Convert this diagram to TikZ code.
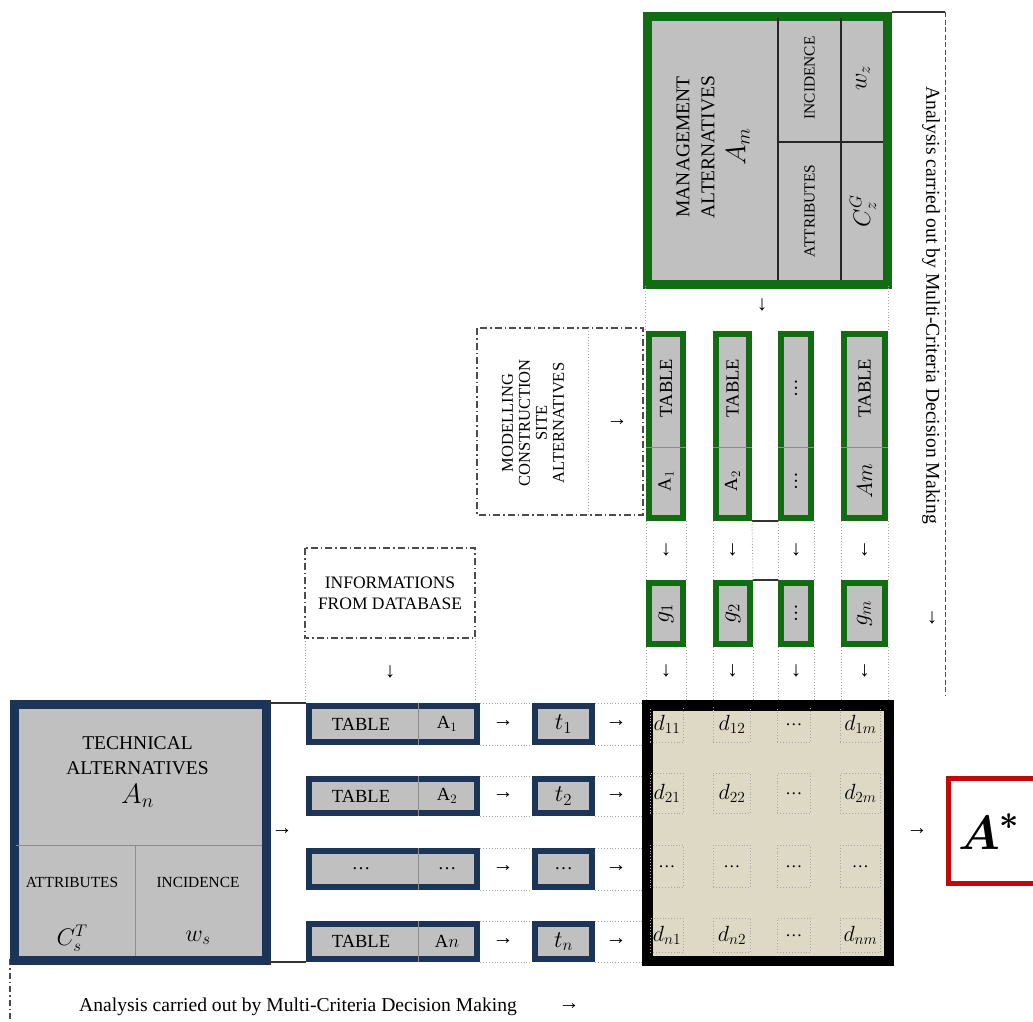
\RequirePackage{fix-cm}
\documentclass[tikz,border=0pt]{standalone}
\usepackage{amsmath}
\usepackage{fontspec}
\setmainfont{Liberation Serif}
\definecolor{dgreen}{RGB}{18,108,18}
\definecolor{navy}{RGB}{28,52,88}
\definecolor{lgray}{RGB}{192,192,192}
\definecolor{beige}{RGB}{221,217,196}
\definecolor{dred}{RGB}{192,10,10}
\newcommand{\bx}[7]{\node[#2, anchor=north west, minimum width={#5-#3}, minimum height={#6-#4}, inner sep=0pt] (#1) at (#3,#4) {#7};}
\tikzset{
 gbox/.style={draw=dgreen, line width=6pt, fill=lgray},
 nbox/.style={draw=navy, line width=6pt, fill=lgray},
 mbox/.style={draw=black, line width=7pt, fill=beige},
 abox/.style={draw=dred, line width=5pt, fill=white},
 dbox/.style={draw=black!70, line width=1.3pt, dash pattern=on 7pt off 3pt on 1.5pt off 3pt},
 guide/.style={draw=black!35, line width=0.9pt, dotted},
 linkline/.style={draw=black!80, line width=1.4pt},
 divline/.style={draw=black!85, line width=1.5pt},
 sdiv/.style={draw=black!45, line width=0.9pt},
 cellbox/.style={draw=black!35, dotted, line width=0.9pt, font=\fontsize{22}{22}\selectfont},
 bigtxt/.style={font=\fontsize{19.5}{25}\selectfont, align=center, inner sep=0pt},
 midtxt/.style={font=\fontsize{18.5}{22}\selectfont, inner sep=0pt},
 smalltxt/.style={font=\fontsize{15.4}{18}\selectfont, inner sep=0pt},
 arrtxt/.style={font=\fontsize{21}{21}\selectfont, inner sep=0pt},
 mth/.style={font=\fontsize{24}{24}\selectfont, inner sep=0pt},
}
\begin{document}
\begin{tikzpicture}[x=1pt,y=-1pt]
\clip (0,0) rectangle (1033,1021);
\fill[white] (0,0) rectangle (1033,1021);

% ---------- guides (behind boxes) ----------
\coordinate (rt) at (945,12);
\coordinate (rb) at (945,695);
\draw[black!70, line width=1pt, dash pattern=on 5pt off 2.5pt] (rt) -- (rb);
\coordinate (lt) at (10,959);
\coordinate (lb) at (10,1021);
\draw[black!70, line width=1.2pt, dash pattern=on 6pt off 3pt on 1.5pt off 3pt] (lt) -- (lb);

% ---------- management box ----------
\bx{M}{gbox}{645.5}{14.5}{882.5}{279.5}{}
\draw[divline] (778,14.5) -- (778,279.5);
\draw[divline] (841,14.5) -- (841,279.5);
\draw[divline] (778,142) -- (882.5,142);
\draw[gbox,fill=none] (M.north west) rectangle (M.south east);
\draw[linkline] (M.north east) ++(3.5,-2.5) coordinate (mtr) -- (rt);
\node[bigtxt, rotate=90] (mtext) at (713,147) {MANAGEMENT\\ALTERNATIVES\\[6pt]{\fontsize{28}{28}\selectfont$A_m$}};
\node[smalltxt, rotate=90] (minc) at (809.5,78) {INCIDENCE};
\node[smalltxt, rotate=90] (matt) at (809.5,211) {ATTRIBUTES};
\node[mth, rotate=90] (mw) at (863,78) {$w_z$};
\node[mth, rotate=90] (mc) at (863,211) {$C_z^G$};
\node[arrtxt] (a0) at (762,305) {↓};

% ---------- columns ----------
\bx{c1}{gbox}{646}{331}{680}{515}{}
\bx{c2}{gbox}{713}{331}{746}{515}{}
\bx{c3}{gbox}{778}{331}{808}{515}{}
\bx{c4}{gbox}{841}{331}{882}{515}{}
\foreach \c in {c1,c2,c3,c4}{\draw[sdiv] (\c.west |- 0,447) -- (\c.east |- 0,447);}
\node[midtxt, rotate=90] (c1t) at (c1.center |- 0,388) {TABLE};
\node[midtxt, rotate=90] (c2t) at (c2.center |- 0,388) {TABLE};
\node[midtxt, rotate=90] (c3t) at (c3.center |- 0,388) {…};
\node[midtxt, rotate=90] (c4t) at (c4.center |- 0,388) {TABLE};
\node[midtxt, rotate=90] (c1a) at (c1.center |- 0,481) {A$_1$};
\node[midtxt, rotate=90] (c2a) at (c2.center |- 0,481) {A$_2$};
\node[midtxt, rotate=90] (c3a) at (c3.center |- 0,481) {…};
\node[midtxt, rotate=90] (c4a) at (c4.center |- 0,481) {\fontsize{22}{22}\selectfont$Am$};

\draw[guide] (M.south west) -- (M.south west |- c1.north);
\draw[guide] (M.south east) -- (M.south east |- c4.north);

% ---------- g boxes ----------
\bx{g1}{gbox}{646}{580}{680}{641}{}
\bx{g2}{gbox}{713}{580}{747}{641}{}
\bx{g3}{gbox}{778}{580}{808}{641}{}
\bx{g4}{gbox}{841}{580}{882}{641}{}
\node[mth, rotate=90] (g1t) at (g1.center) {$g_1$};
\node[mth, rotate=90] (g2t) at (g2.center) {$g_2$};
\node[midtxt, rotate=90] (g3t) at (g3.center) {…};
\node[mth, rotate=90] (g4t) at (g4.center) {$g_m$};
\draw[linkline] (c2.south east) -- (c3.south west);
\draw[linkline] (g2.north east) -- (g3.north west);

% ---------- modelling box ----------
\coordinate (mo1) at (477,328);
\coordinate (mo2) at (643,515);
\draw[dbox] (mo1) rectangle (mo2);
\draw[guide] (588,328) -- (588,515);
\node[font=\fontsize{16.5}{17}\selectfont, align=center, inner sep=0pt, rotate=90] (mod) at (533,423) {MODELLING\\CONSTRUCTION\\SITE\\ALTERNATIVES};
\node[arrtxt] (a1) at (617,423) {→};

% ---------- database box ----------
\coordinate (db1) at (305,548);
\coordinate (db2) at (475,638);
\draw[dbox] (db1) rectangle (db2);
\node[font=\fontsize{17.5}{21}\selectfont, align=center, inner sep=0pt] (dbt) at (390,593) {INFORMATIONS\\FROM DATABASE};
\draw[guide] (db1 |- db2) -- (305,700);
\draw[guide] (db2) -- (475,700);
\node[arrtxt] (a2) at (390,672) {↓};

% ---------- technical box ----------
\bx{T}{nbox}{13}{703}{262}{956}{}
\draw[sdiv] (13,845) -- (262,845);
\draw[sdiv] (135,845) -- (135,956);
\draw[nbox,fill=none] (T.north west) rectangle (T.south east);
\node[bigtxt] (ttext) at (137.5,772) {TECHNICAL\\ALTERNATIVES\\[4pt]{\fontsize{28}{28}\selectfont$A_n$}};
\node[smalltxt] (tatt) at (72,882) {ATTRIBUTES};
\node[smalltxt] (tinc) at (198,882) {INCIDENCE};
\node[mth] (tc) at (72,938) {$C_s^T$};
\node[mth] (tw) at (198,938) {$w_s$};
\node[arrtxt] (a3) at (282,832) {→};

% ---------- table rows and t boxes ----------
\bx{R1}{nbox}{306}{703}{474}{739}{}
\bx{R2}{nbox}{306}{776}{474}{810}{}
\bx{R3}{nbox}{306}{848}{474}{884}{}
\bx{R4}{nbox}{306}{921}{474}{956}{}
\bx{t1}{nbox}{532}{703}{589}{739}{\fontsize{24}{24}\selectfont$t_1$}
\bx{t2}{nbox}{532}{776}{589}{810}{\fontsize{24}{24}\selectfont$t_2$}
\bx{t3}{nbox}{532}{848}{589}{884}{\fontsize{18.5}{20}\selectfont…}
\bx{t4}{nbox}{532}{921}{589}{956}{\fontsize{24}{24}\selectfont$t_n$}
\foreach \r/\a/\b in {R1/TABLE/A$_1$, R2/TABLE/A$_2$, R3/…/…, R4/TABLE/A$n$}{
  \draw[sdiv] (418,0 |- \r.north) -- (418,0 |- \r.south);
  \node[midtxt] (\r-l) at (361,0 |- \r.center) {\a};
  \node[midtxt] (\r-r) at (447,0 |- \r.center) {\b};
  \node[arrtxt] (\r-ar1) at (503,0 |- \r.center) {→};
  \node[arrtxt] (\r-ar2) at (616,0 |- \r.center) {→};
}
\draw[linkline] (T.north east) -- (R1.north west);
\draw[linkline] (T.south east) -- (R4.south west);

% ---------- matrix ----------
\bx{X}{mbox}{645.5}{703.5}{883.5}{955.5}{}
\foreach \i in {1,2,3,4}{
  \draw[guide] (R\i.north east) -- (t\i.north west);
  \draw[guide] (R\i.south east) -- (t\i.south west);
  \draw[guide] (t\i.north east) -- (t\i.north east -| X.west);
  \draw[guide] (t\i.south east) -- (t\i.south east -| X.west);
  \draw[guide] (c\i.south west) -- (g\i.north west);
  \draw[guide] (c\i.south east) -- (g\i.north east);
  \draw[guide] (g\i.south west) -- (g\i.south west |- X.north);
  \draw[guide] (g\i.south east) -- (g\i.south east |- X.north);
  \node[arrtxt] (da\i) at (c\i.center |- 0,550) {↓};
  \node[arrtxt] (db\i) at (c\i.center |- 0,671) {↓};
}
\bx{d11}{cellbox}{650}{706}{683}{742}{$d_{11}$}
\bx{d12}{cellbox}{713}{706}{750}{742}{$d_{12}$}
\bx{d13}{cellbox}{777}{706}{810}{742}{\fontsize{17}{17}\selectfont…}
\bx{d14}{cellbox}{840}{706}{880}{742}{$d_{1m}$}
\bx{d21}{cellbox}{650}{773}{683}{813}{$d_{21}$}
\bx{d22}{cellbox}{713}{773}{750}{813}{$d_{22}$}
\bx{d23}{cellbox}{777}{773}{810}{813}{\fontsize{17}{17}\selectfont…}
\bx{d24}{cellbox}{840}{773}{880}{813}{$d_{2m}$}
\bx{d31}{cellbox}{650}{845}{683}{887}{\fontsize{17}{17}\selectfont…}
\bx{d32}{cellbox}{713}{845}{750}{887}{\fontsize{17}{17}\selectfont…}
\bx{d33}{cellbox}{777}{845}{810}{887}{\fontsize{17}{17}\selectfont…}
\bx{d34}{cellbox}{840}{845}{880}{887}{\fontsize{17}{17}\selectfont…}
\bx{d41}{cellbox}{650}{918}{683}{952}{$d_{n1}$}
\bx{d42}{cellbox}{713}{918}{750}{952}{$d_{n2}$}
\bx{d43}{cellbox}{777}{918}{810}{952}{\fontsize{17}{17}\selectfont…}
\bx{d44}{cellbox}{840}{918}{880}{952}{$d_{nm}$}
\draw[mbox,fill=none] (X.north west) rectangle (X.south east);

% ---------- result ----------
\node[arrtxt] (a4) at (917,832) {→};
\bx{R}{abox}{945.5}{775.5}{1045}{880.5}{}
\node[font=\fontsize{48}{48}\selectfont, inner sep=0pt] (Astar) at (989,832) {$\boldsymbol{A}^{\boldsymbol{*}}$};

% ---------- side texts ----------
\node[font=\fontsize{19.6}{20}\selectfont, inner sep=0pt, rotate=-90] (rtext) at (931,305) {Analysis carried out by Multi-Criteria Decision Making};
\node[arrtxt] (a5) at (932,618) {↓};
\node[font=\fontsize{19.6}{20}\selectfont, inner sep=0pt] (btext) at (298,1007) {Analysis carried out by Multi-Criteria Decision Making};
\node[arrtxt] (a6) at (569,1007) {→};
\end{tikzpicture}
\end{document}
